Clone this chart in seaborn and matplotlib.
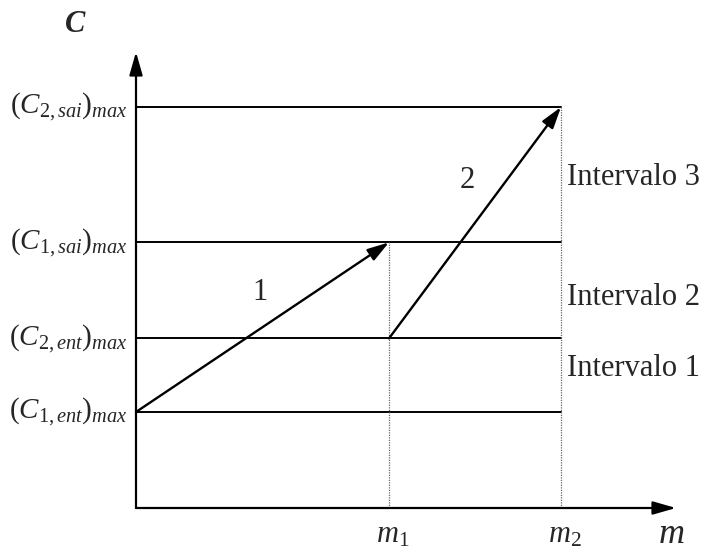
import matplotlib
matplotlib.use("Agg")
import matplotlib.pyplot as plt
import seaborn as sns
import pandas as pd

# Concentration levels (C axis) and flow-rate positions (m axis)
level_names = ["(C1,ent)max", "(C2,ent)max", "(C1,sai)max", "(C2,sai)max"]
level_values = [3.0, 5.3, 8.3, 12.53]
level_labels = [r"$(C_{1,ent})_{max}$", r"$(C_{2,ent})_{max}$",
                r"$(C_{1,sai})_{max}$", r"$(C_{2,sai})_{max}$"]
m_names = ["m1", "m2"]
m_values = [2.53, 4.25]
m_labels = [r"$m_{1}$", r"$m_{2}$"]

# Operation segments: (start m, start C) -> (end m, end C)
ops = ["1", "2"]
op_m_start = [0.0, 2.53]
op_c_start = [3.0, 5.3]
op_m_end = [2.53, 4.25]
op_c_end = [8.3, 12.53]

interval_names = ["Intervalo 1", "Intervalo 2", "Intervalo 3"]

sns.set_style("white")
plt.rcParams["mathtext.fontset"] = "custom"
plt.rcParams["mathtext.rm"] = "Liberation Serif"
plt.rcParams["mathtext.it"] = "Liberation Serif:italic"
plt.rcParams["mathtext.bf"] = "Liberation Serif:bold:italic"
plt.rcParams["font.family"] = ["Liberation Serif", "DejaVu Serif"]

fig = plt.figure(figsize=(7.05, 5.53), dpi=100)
ax = fig.add_axes([136 / 705, 45 / 553, 540 / 705, 456 / 553])
x_max, y_max = 5.4, 14.25
ax.set_xlim(0, x_max)
ax.set_ylim(0, y_max)
ax.axis("off")

# horizontal concentration levels
lv = pd.DataFrame({
    "m": [0.0] * 4 + [m_values[1]] * 4,
    "C": level_values * 2,
    "level": level_names * 2,
})
sns.lineplot(data=lv, x="m", y="C", units="level", estimator=None,
             color="black", lw=1.4, ax=ax, legend=False)

# dotted verticals at m1, m2
tops = [level_values[2], level_values[3]]
vd = pd.DataFrame({
    "m": m_values + m_values,
    "C": [0.0, 0.0] + tops,
    "name": m_names + m_names,
})
sns.lineplot(data=vd, x="m", y="C", units="name", estimator=None,
             color="#666666", lw=0.9, ls=(0, (1, 1)), ax=ax, legend=False)

# axes with arrowheads
arrow_kw = dict(arrowstyle="-|>,head_length=1.4,head_width=0.4",
                color="black", lw=1.6, shrinkA=0, shrinkB=0)
ax.annotate("", xy=(0, y_max), xytext=(0, 0), arrowprops=arrow_kw,
            annotation_clip=False)
ax.annotate("", xy=(x_max, 0), xytext=(0, 0), arrowprops=arrow_kw,
            annotation_clip=False)

# operation arrows
op_kw = dict(arrowstyle="-|>,head_length=1.3,head_width=0.4",
             color="black", lw=1.7, shrinkA=0, shrinkB=0)
for x0, y0, x1, y1 in zip(op_m_start, op_c_start, op_m_end, op_c_end):
    ax.annotate("", xy=(x1, y1), xytext=(x0, y0), arrowprops=op_kw,
                annotation_clip=False)

# operation numbers
ax.text(1.24, 6.75, ops[0], fontsize=22, ha="center", va="center")
ax.text(3.31, 10.25, ops[1], fontsize=22, ha="center", va="center")

# level labels on the left
for val, lab in zip(level_values, level_labels):
    ax.text(-0.08, val, lab, fontsize=21, ha="right", va="center",
            clip_on=False)

# interval labels on the right
interval_y = [4.375, 6.59, 10.34]
for yy, lab in zip(interval_y, interval_names):
    ax.text(4.31, yy, lab, fontsize=22, ha="left", va="center",
            clip_on=False)

# m tick labels and axis titles
for mv, lab in zip(m_values, m_labels):
    ax.text(mv + 0.04, -0.85, lab, fontsize=22, ha="center", va="center",
            clip_on=False)
ax.text(5.35, -0.82, r"$m$", fontsize=26, ha="center", va="center",
        clip_on=False)
ax.text(-0.61, 15.1, r"$\mathbf{C}$", fontsize=22, ha="center",
        va="center", clip_on=False)

fig.savefig("out.png", dpi=100)
